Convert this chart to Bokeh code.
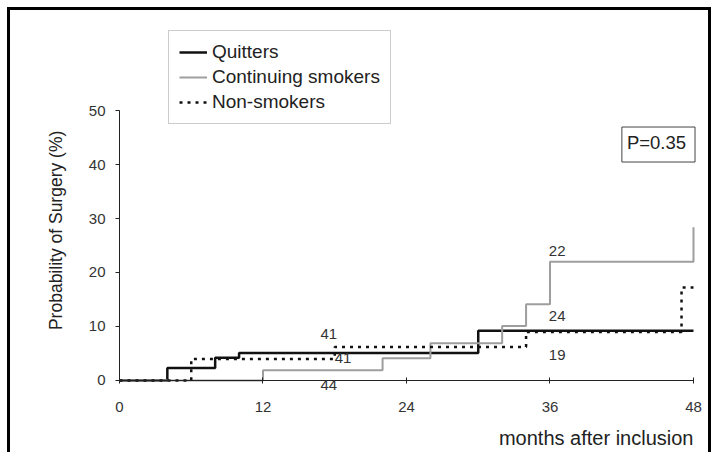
from math import pi
from bokeh.plotting import figure
from bokeh.models import (Range1d, Legend, LegendItem, Label, LabelSet,
                          ColumnDataSource, FixedTicker)
from bokeh.core.properties import value
from bokeh.embed import file_html
from bokeh.resources import INLINE

# ---- data ----
month_ticks = [0, 12, 24, 36, 48]
pct_ticks = [0, 10, 20, 30, 40, 50]

quit_t = [0, 4, 8, 10, 30, 48]
quit_p = [0, 2.3, 4.2, 5.1, 9.2, 9.2]

cont_t = [0, 12, 22, 26, 32, 34, 36, 48, 48]
cont_p = [0, 1.9, 4.1, 6.9, 10.1, 14.1, 22.0, 22.0, 28.4]

non_t = [0, 6, 18, 34, 47, 48]
non_p = [0, 4.0, 6.2, 9.0, 17.2, 17.2]

risk_x = [17.5, 18.7, 17.5, 36.6, 36.6, 36.6]
risk_y = [8.7, 4.1, -0.9, 24.0, 12.0, 4.8]
risk_text = ["41", "41", "44", "22", "24", "19"]

series_names = ["Quitters", "Continuing smokers", "Non-smokers"]
p_value_text = "P=0.35"
x_title = "months after inclusion"
y_title = "Probability of Surgery (%)"

FONT = "Liberation Sans"

# canvas 704x445; data 0 at canvas (109, 370); 11.958 px / month, 5.4 px / %
p = figure(width=704, height=445, output_backend="svg", toolbar_location=None,
           x_range=Range1d(-9.115, 49.757), y_range=Range1d(-13.89, 68.52),
           min_border=0)
p.styles = {"margin-left": "7px", "margin-top": "7px",
            "border-left": "3px solid black", "border-top": "3px solid black",
            "border-right": "3px solid black"}
p.outline_line_color = None
p.xgrid.visible = False
p.ygrid.visible = False
p.background_fill_color = "white"
p.border_fill_color = "white"

# axes placed at the data origin
p.xaxis.fixed_location = 0
p.yaxis.fixed_location = 0
p.xaxis.ticker = FixedTicker(ticks=month_ticks)
p.yaxis.ticker = FixedTicker(ticks=pct_ticks)
p.xaxis.bounds = (0, 48)
p.yaxis.bounds = (0, 50)
for ax in (p.xaxis[0], p.yaxis[0]):
    ax.axis_line_color = "#222222"
    ax.axis_line_width = 1
    ax.major_tick_line_color = "#222222"
    ax.minor_tick_line_color = None
    ax.major_label_text_font = FONT
    ax.major_label_text_font_size = "15px"
    ax.major_label_text_color = "#333333"
p.xaxis.major_tick_in = 3
p.xaxis.major_tick_out = 3
p.xaxis.major_label_standoff = 19
p.yaxis.major_tick_in = 0
p.yaxis.major_tick_out = 4
p.yaxis.major_label_standoff = 10

# series
r_q = p.step(quit_t, quit_p, mode="after", line_color="#111111", line_width=2.5)
r_c = p.step(cont_t, cont_p, mode="after", line_color="#9e9e9e", line_width=2)
r_n = p.step(non_t, non_p, mode="after", line_color="#111111", line_width=2.5,
             line_dash="3 5")

legend = Legend(items=[LegendItem(label=series_names[0], renderers=[r_q]),
                       LegendItem(label=series_names[1], renderers=[r_c]),
                       LegendItem(label=series_names[2], renderers=[r_n])],
                location=(158, 331))
legend.label_text_font = FONT
legend.label_text_font_size = "19px"
legend.label_text_color = "#222222"
legend.glyph_width = 28
legend.glyph_height = 20
legend.label_height = 20
legend.label_standoff = 5
legend.spacing = 3
legend.padding = 10
legend.margin = 0
legend.border_line_color = "#999999"
legend.border_line_width = 1
legend.background_fill_color = "white"
legend.background_fill_alpha = 1
p.add_layout(legend)

# numbers at risk
src = ColumnDataSource(dict(x=risk_x, y=risk_y, t=risk_text))
p.add_layout(LabelSet(x="x", y="y", text="t", source=src, text_align="center",
                      text_baseline="middle", text_font=value(FONT),
                      text_font_size="15px", text_color="#333333"))

# P value box
p.add_layout(Label(x=45.07, y=43.7, text=p_value_text, text_align="center",
                   text_baseline="middle", text_font=FONT, text_font_size="18.5px",
                   text_color="#222222", border_line_color="#444444",
                   border_line_width=1, background_fill_color="white",
                   padding=(5, 9, 5, 9)))

# axis titles
p.add_layout(Label(x=48, y=-10.56, text=x_title, text_align="right",
                   text_baseline="middle", text_font=FONT, text_font_size="20px",
                   text_color="#222222"))
p.add_layout(Label(x=-5.27, y=27.8, text=y_title, angle=pi / 2,
                   text_align="center", text_baseline="middle", text_font=FONT,
                   text_font_size="17.5px", text_color="#222222"))

open("out.html", "w").write(file_html(p, INLINE))
